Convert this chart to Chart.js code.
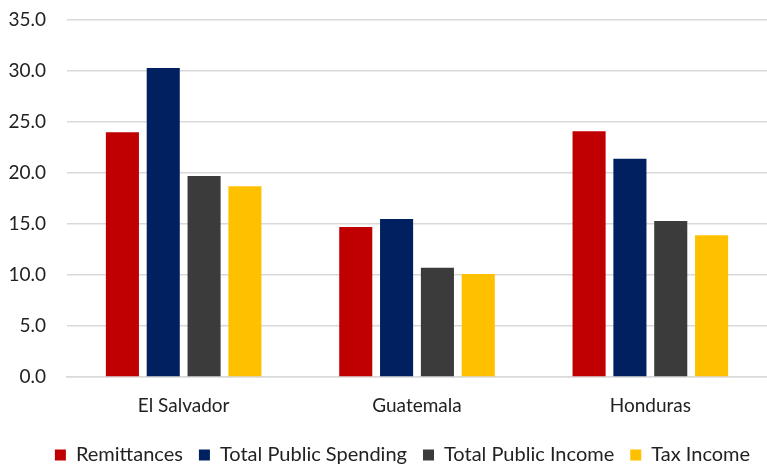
<!DOCTYPE html>
<html>
<head>
<meta charset="utf-8">
<script src="https://cdn.jsdelivr.net/npm/chart.js@4/dist/chart.umd.min.js"></script>
<style>
  html, body { margin: 0; padding: 0; background: #fff; }
  #wrap { width: 767px; height: 466px; }
</style>
</head>
<body>
<div id="wrap"><canvas id="c" width="767" height="466"></canvas></div>
<script>
const categories = ["El Salvador", "Guatemala", "Honduras"];
const remittances = [24.0, 14.7, 24.1];
const totalPublicSpending = [30.3, 15.5, 21.4];
const totalPublicIncome = [19.7, 10.7, 15.3];
const taxIncome = [18.7, 10.1, 13.9];
const seriesNames = ["Remittances", "Total Public Spending", "Total Public Income", "Tax Income"];
const seriesColors = ["#c00000", "#002060", "#3b3b3b", "#ffc000"];
const yMin = 0, yMax = 35, yStep = 5;

const seriesData = [remittances, totalPublicSpending, totalPublicIncome, taxIncome];
const FONT = "Lato, 'Open Sans', sans-serif";

const legendShift = {
  id: 'legendShift',
  afterLayout(chart) {
    const lg = chart.legend;
    if (lg) { lg.left += 19; lg.right += 19; lg.top += 9; lg.bottom += 9; }
  }
};

new Chart(document.getElementById('c'), {
  type: 'bar',
  data: {
    labels: categories,
    datasets: seriesNames.map((n, i) => ({
      label: n,
      data: seriesData[i],
      backgroundColor: seriesColors[i],
      borderWidth: 0,
      categoryPercentage: 0.7,
      barPercentage: 0.81
    }))
  },
  options: {
    responsive: false,
    animation: false,
    layout: { padding: { top: 20, right: 0, left: 0, bottom: 0 } },
    plugins: {
      legend: {
        position: 'bottom',
        labels: {
          boxWidth: 11, boxHeight: 11, padding: 16,
          color: '#222', font: { family: FONT, size: 20 }
        }
      },
      tooltip: { enabled: false }
    },
    scales: {
      x: {
        grid: { display: false, drawTicks: false },
        border: { display: true, color: '#d9d9d9', width: 1.5 },
        afterFit: s => { s.height = 43; s.paddingLeft = 0; s.paddingRight = 0; },
        ticks: { color: '#222', font: { family: FONT, size: 19 }, padding: 17 }
      },
      y: {
        min: yMin, max: yMax,
        grid: { color: '#d9d9d9', lineWidth: 1.5, drawTicks: false },
        border: { display: false },
        afterFit: s => { s.width = 67; s.paddingTop = 0; s.paddingBottom = 0; },
        ticks: {
          stepSize: yStep, color: '#222', padding: 21,
          font: { family: FONT, size: 19 },
          callback: v => v.toFixed(1)
        }
      }
    }
  },
  plugins: [legendShift]
});
</script>
</body>
</html>
